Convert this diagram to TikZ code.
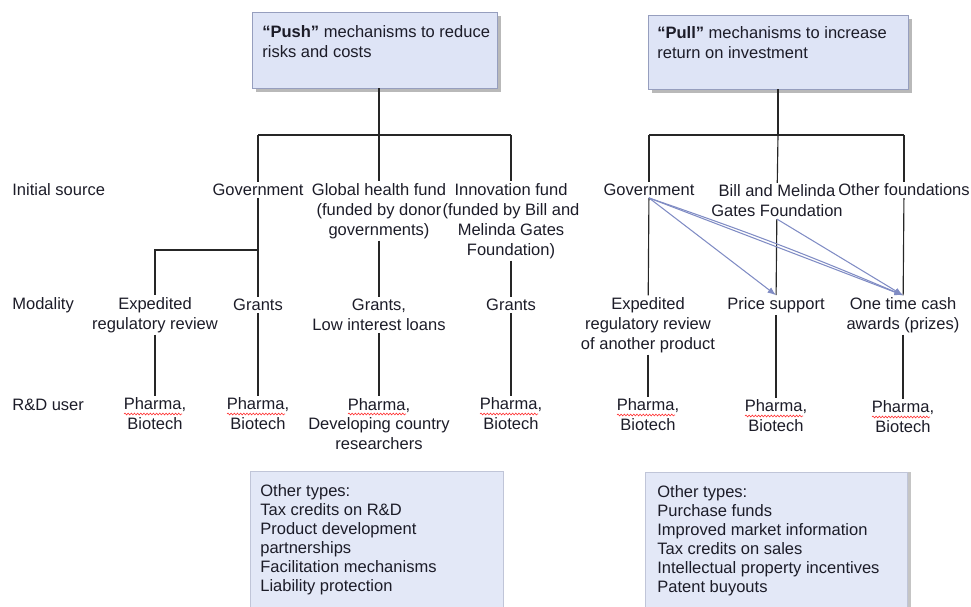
\documentclass[tikz,border=0pt]{standalone}
\usepackage{fontspec}
\setmainfont{Liberation Sans}
\usetikzlibrary{arrows.meta,calc,shadows,decorations.pathmorphing}
\tikzset{>={Latex[width=1.3mm,length=1.7mm]}}
\definecolor{boxfill}{RGB}{222,228,246}
\definecolor{boxedge}{RGB}{150,158,190}
\definecolor{linkblue}{RGB}{128,140,196}
\definecolor{inkcol}{RGB}{28,28,40}

\begin{document}
\begin{tikzpicture}[x=0.02cm,y=-0.02cm,
  every node/.style={font=\fontsize{9.4}{11.3}\selectfont, text=inkcol, inner sep=1pt},
  txt/.style={align=center},
  rowlabel/.style={anchor=west, inner sep=0pt},
  boxtext/.style={anchor=north west, align=left, inner sep=0pt},
  topbox/.style={draw=boxedge, fill=boxfill, inner sep=0pt,
    drop shadow={shadow xshift=2.5pt, shadow yshift=-2pt, fill=black!55}},
  otherbox/.style={draw=boxedge!60, fill=boxfill!85, inner sep=0pt, anchor=north west},
  link/.style={draw=black!85, line width=0.65pt},
  flow/.style={->, draw=linkblue, line width=0.6pt},
  spellmark/.style={draw=red!80, line width=0.35pt, decorate,
    decoration={snake, amplitude=0.5pt, segment length=1.8pt}}]

  \useasboundingbox (0,0) rectangle (971,606);

  % top boxes
  \node[topbox, minimum width=4.9cm, minimum height=1.52cm] (pushbox) at (374.5,50) {};
  \node[boxtext] (pushtext) at (262,25) {\textbf{“Push”} mechanisms to reduce\\risks and costs};
  \node[topbox, minimum width=5.2cm, minimum height=1.48cm] (pullbox) at (778,52) {};
  \node[boxtext] (pulltext) at (657,26) {\textbf{“Pull”} mechanisms to increase\\return on investment};

  % row labels
  \node[rowlabel] (lblsrc) at (12,190) {Initial source};
  \node[rowlabel] (lblmod) at (12,305) {Modality};
  \node[rowlabel] (lbluser) at (12,405) {R\&D user};

  % push side
  \node[txt] (pgov) at (258,190) {Government};
  \node[txt] (pghf) at (379,211) {Global health fund\\(funded by donor\\governments)};
  \node[txt] (pinn) at (511,221) {Innovation fund\\(funded by Bill and\\Melinda Gates\\Foundation)};

  \node[txt] (pexp) at (155,315) {Expedited\\regulatory review};
  \node[txt] (pgr1) at (258,305) {Grants};
  \node[txt] (pgr2) at (379,315) {Grants,\\Low interest loans};
  \node[txt] (pgr3) at (511,305) {Grants};

  \node[txt] (pu1) at (155,414) {Pharma,\\Biotech};
  \node[txt] (pu2) at (258,414) {Pharma,\\Biotech};
  \node[txt] (pu3) at (379,424) {Pharma,\\Developing country\\researchers};
  \node[txt] (pu4) at (511,414) {Pharma,\\Biotech};

  % pull side
  \node[txt] (qgov) at (649,190) {Government};
  \node[txt] (qbmg) at (777,201) {Bill and Melinda\\Gates Foundation};
  \node[txt] (qoth) at (904,190) {Other foundations};

  \node[txt] (qexp) at (648,325) {Expedited\\regulatory review\\of another product};
  \node[txt] (qprice) at (776,305) {Price support};
  \node[txt] (qcash) at (903,315) {One time cash\\awards (prizes)};

  \node[txt] (qu1) at (648,415) {Pharma,\\Biotech};
  \node[txt] (qu2) at (776,416) {Pharma,\\Biotech};
  \node[txt] (qu3) at (903,417) {Pharma,\\Biotech};

  % junctions
  \coordinate (pj) at (379,135);
  \coordinate (pjl) at (258,135);
  \coordinate (pjr) at (511,135);
  \coordinate (pk) at (258,250);
  \coordinate (qj) at (778,135);
  \coordinate (qjl) at (649,135);
  \coordinate (qjr) at (904,135);

  \draw[link] (pj |- pushbox.south) -- (pj);
  \draw[link] (pjl) -- (pjr);
  \draw[link] (pjl) -- (pgov);
  \draw[link] (pj) -- (pghf);
  \draw[link] (pjr) -- (pinn);
  \draw[link] (pgov) -- (pgr1);
  \draw[link] (pk) -| (pexp);
  \draw[link] (pghf) -- (pgr2);
  \draw[link] (pinn) -- (pgr3);
  \draw[link] (pexp) -- (pu1);
  \draw[link] (pgr1) -- (pu2);
  \draw[link] (pgr2) -- (pu3);
  \draw[link] (pgr3) -- (pu4);

  \draw[link] (qj |- pullbox.south) -- (qj);
  \draw[link] (qjl) -- (qjr);
  \draw[link] (qjl) -- (qgov);
  \draw[link] (qj) -- (qbmg);
  \draw[link] (qjr) -- (qoth);
  \draw[link] (qgov) -- (qexp);
  \draw[link] (qbmg) -- (qprice);
  \draw[link] (qoth) -- (qcash);
  \draw[link] (qexp) -- (qu1);
  \draw[link] (qprice) -- (qu2);
  \draw[link] (qcash) -- (qu3);

  \draw[flow] (qgov.south) -- (qprice.north);
  \draw[flow] (qgov.south) -- (qcash.north);
  \draw[flow] (qgov.south) to[bend left=2] (qcash.north);
  \draw[flow] (qbmg.south) -- (qcash.north);

  % spell-check marks
  \foreach \n in {pu1,pu2,pu4,qu1,qu2,qu3}
    \draw[spellmark] ($(\n.center)+(-31,0)$) -- ($(\n.center)+(27,0)$);
  \draw[spellmark] ($(pu3.center)+(-31,-10)$) -- ($(pu3.center)+(27,-10)$);

  % other types
  \node[otherbox, minimum width=5.06cm, minimum height=2.9cm] (pushother) at (250,471) {};
  \node[boxtext, font=\fontsize{9.4}{10.8}\selectfont] (pushlist) at (260,484)
    {Other types:\\Tax credits on R\&D\\Product development\\partnerships\\Facilitation mechanisms\\Liability protection};
  \node[otherbox, minimum width=5.24cm, minimum height=2.9cm,
    drop shadow={shadow xshift=2pt, shadow yshift=0pt, fill=black!45}] (pullother) at (645,472) {};
  \node[boxtext, font=\fontsize{9.4}{10.8}\selectfont] (pulllist) at (657,485)
    {Other types:\\Purchase funds\\Improved market information\\Tax credits on sales\\Intellectual property incentives\\Patent buyouts};

\end{tikzpicture}
\end{document}
